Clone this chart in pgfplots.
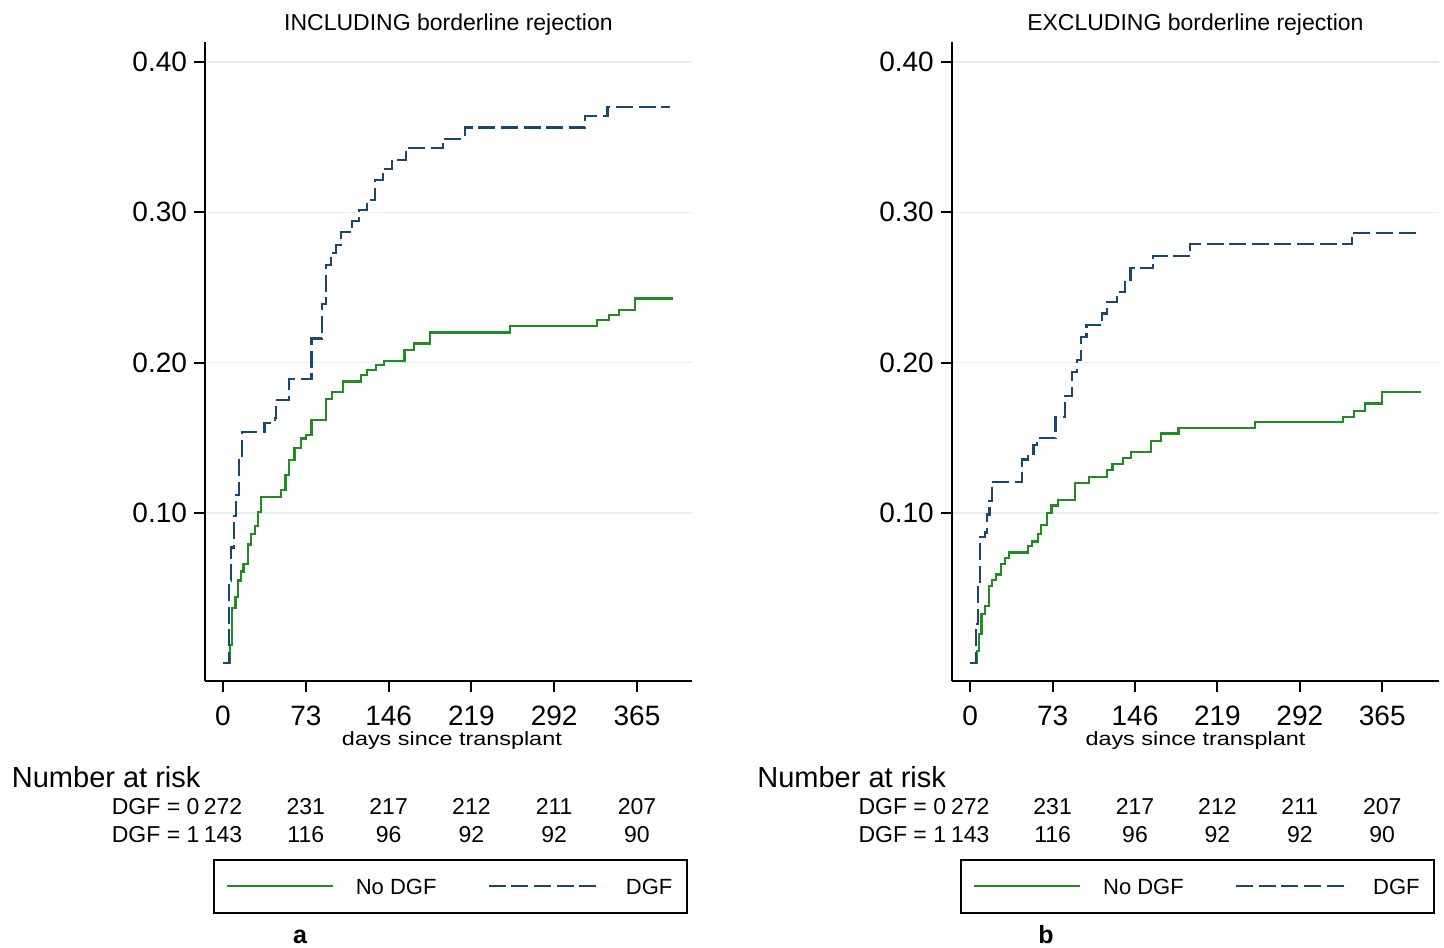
\documentclass[border=0pt]{standalone}
\usepackage{pgfplots}
\pgfplotsset{compat=1.18}
\usepackage{fontspec}
\setmainfont{Liberation Sans}
\definecolor{kmgreen}{RGB}{34,139,34}
\definecolor{kmnavy}{RGB}{26,71,111}
\definecolor{kmgrid}{RGB}{228,238,243}
\newcommand\nar{\fontsize{11.5}{13}\selectfont}
\newcommand\narhead{\fontsize{14.5}{16}\selectfont}

\pgfplotsset{
  kmaxis/.style={
    scale only axis, width=243.5pt, height=319.5pt,
    axis lines=left, axis line style={-, line width=1pt, black},
    ymin=-0.0118, ymax=0.4133,
    xtick={0,73,146,219,292,365}, ytick={0.1,0.2,0.3,0.4},
    tick align=outside, major tick length=5.5pt,
    tick style={line width=1pt, black},
    ymajorgrids, grid style={kmgrid, line width=0.8pt},
    /pgf/number format/assume math mode=true,
    ticklabel style={font=\fontsize{14}{16}\selectfont},
    yticklabel style={/pgf/number format/.cd, fixed, fixed zerofill, precision=2},
    xticklabel style={yshift=-3.5pt},
    every axis title shift=0pt,
    title style={at={(0.5,1)}, anchor=base, yshift=5.5pt, font=\fontsize{11.5}{13}\selectfont},
    xlabel style={anchor=base, yshift=-32pt, inner sep=0pt, font=\fontsize{11.7}{13}\selectfont},
    clip=false,
    legend columns=2, legend cell align=left,
    legend style={anchor=north west, draw=black, line width=0.8pt, inner sep=0pt,
      nodes={inner sep=0pt, text depth=0pt}, font=\fontsize{11}{13}\selectfont},
  },
  nodgf/.style={kmgreen, line width=1.1pt, const plot,
    legend image code/.code={\path[draw=none,fill=none] (-6.5pt,-13.25pt) rectangle (64.5pt,13.25pt);
      \draw[kmgreen, line width=1.1pt, solid] (0pt,0pt) -- (53pt,0pt);}},
  dgf/.style={kmnavy, line width=1.1pt, const plot, dash pattern=on 8.5pt off 2.8pt,
    legend image code/.code={\path[draw=none,fill=none] (0pt,-13.25pt) rectangle (68.5pt,13.25pt);
      \draw[kmnavy, line width=1.1pt, dash pattern=on 8.5pt off 2.8pt] (0pt,0pt) -- (56.5pt,0pt);}},
}

\begin{document}
\begin{tikzpicture}
\path[use as bounding box] (0,0) rectangle (722pt,473.5pt);

% ---------------- Panel a ----------------
\begin{axis}[kmaxis, at={(102.5pt,133pt)}, anchor=south west,
  xmin=-15.9, xmax=413.5,
  title={INCLUDING borderline rejection},
  xlabel={\scalebox{1}[0.82]{days since transplant}},
  xlabel style={at={(axis description cs:0.507,0)}},
  legend style={at={(0.0164,-0.2786)}}]
\addplot[nodgf] coordinates {
(0,0) (6,0.012) (8,0.037) (11,0.044) (13.4,0.055) (16,0.061) (18,0.066)
(22,0.079) (25,0.086) (28,0.0915) (30.5,0.1005) (33.5,0.1105)
(51,0.115) (55,0.125) (58,0.135) (63,0.143) (69,0.1495) (73,0.152) (78,0.162)
(90.5,0.176) (96,0.1806) (105.5,0.1875) (122,0.1918) (127,0.195) (135,0.1984)
(142,0.2013) (160,0.2082) (168.5,0.2127) (182.7,0.22) (253,0.2242)
(330,0.2282) (340,0.2316) (349,0.235) (363,0.2427) (397,0.2427)
};
\addlegendentry{\makebox[66pt][l]{No DGF}}
\addplot[dgf] coordinates {
(0,0) (5,0.055) (7.3,0.077) (10,0.098) (11.4,0.112) (14.2,0.137) (17,0.154)
(36.5,0.160) (45.5,0.163) (47,0.175) (58,0.189) (78,0.216) (87,0.239)
(91,0.265) (95,0.273) (99.5,0.278) (104,0.287) (114,0.294) (120,0.3015)
(127,0.308) (134,0.3215) (141,0.329) (149,0.335) (161.5,0.343) (194,0.349)
(213,0.3564) (319,0.3638) (339,0.370) (393.8,0.370)
};
\addlegendentry{\makebox[30.5pt][l]{DGF}}
\node[anchor=base west, inner sep=0, font=\narhead] at (axis cs:-186.5,-0.0829) {Number at risk};
\node[anchor=base east, inner sep=0, font=\nar] at (axis cs:-20.5,-0.1009) {DGF = 0};
\node[anchor=base east, inner sep=0, font=\nar] at (axis cs:-20.5,-0.1195) {DGF = 1};
\node[anchor=base, inner sep=0, font=\nar] at (axis cs:0,-0.1009) {272};
\node[anchor=base, inner sep=0, font=\nar] at (axis cs:73,-0.1009) {231};
\node[anchor=base, inner sep=0, font=\nar] at (axis cs:146,-0.1009) {217};
\node[anchor=base, inner sep=0, font=\nar] at (axis cs:219,-0.1009) {212};
\node[anchor=base, inner sep=0, font=\nar] at (axis cs:292,-0.1009) {211};
\node[anchor=base, inner sep=0, font=\nar] at (axis cs:365,-0.1009) {207};
\node[anchor=base, inner sep=0, font=\nar] at (axis cs:0,-0.1195) {143};
\node[anchor=base, inner sep=0, font=\nar] at (axis cs:73,-0.1195) {116};
\node[anchor=base, inner sep=0, font=\nar] at (axis cs:146,-0.1195) {96};
\node[anchor=base, inner sep=0, font=\nar] at (axis cs:219,-0.1195) {92};
\node[anchor=base, inner sep=0, font=\nar] at (axis cs:292,-0.1195) {92};
\node[anchor=base, inner sep=0, font=\nar] at (axis cs:365,-0.1195) {90};
\node[anchor=base, inner sep=0, font=\bfseries\fontsize{12.5}{14}\selectfont] at (axis cs:67.9,-0.1867) {a};
\end{axis}

% ---------------- Panel b ----------------
\begin{axis}[kmaxis, at={(475.9pt,133pt)}, anchor=south west, width=243.6pt,
  xmin=-16.3, xmax=415.3,
  title={EXCLUDING borderline rejection},
  xlabel={\scalebox{1}[0.82]{days since transplant}},
  xlabel style={at={(axis description cs:0.50,0)}},
  legend style={at={(0.0175,-0.2786)}}]
\addplot[nodgf] coordinates {
(0,0) (6,0.008) (8,0.0195) (10,0.033) (13,0.038) (16.3,0.0515) (19,0.0552)
(23,0.059) (27,0.066) (31,0.070) (34.5,0.0737) (51,0.078) (55,0.081) (60,0.086)
(63,0.092) (68,0.1) (72,0.1049) (78,0.1087) (92.7,0.1198) (105,0.1238)
(121,0.1287) (126,0.1327) (135.5,0.1367) (142.5,0.1403) (160.5,0.1477)
(169,0.1528) (184.5,0.1563) (252,0.1603) (330,0.1639) (340,0.168)
(350,0.1728) (365,0.1802) (399,0.1802)
};
\addlegendentry{\makebox[66pt][l]{No DGF}}
\addplot[dgf] coordinates {
(0,0) (4.9,0.026) (7,0.052) (9,0.084) (13,0.087) (15,0.099) (17,0.108) (19,0.1207)
(46,0.1355) (51,0.1394) (56,0.145) (59,0.15) (75.5,0.164) (84,0.178) (90.5,0.194)
(94.5,0.2018) (98,0.217) (103,0.2249) (117,0.2327) (121,0.2404) (130,0.247)
(137,0.2549) (142,0.2627) (162,0.2709) (195,0.2787) (338,0.2864) (399,0.2864)
};
\addlegendentry{\makebox[30.5pt][l]{DGF}}
\node[anchor=base west, inner sep=0, font=\narhead] at (axis cs:-188.9,-0.0829) {Number at risk};
\node[anchor=base east, inner sep=0, font=\nar] at (axis cs:-21,-0.1009) {DGF = 0};
\node[anchor=base east, inner sep=0, font=\nar] at (axis cs:-21,-0.1195) {DGF = 1};
\node[anchor=base, inner sep=0, font=\nar] at (axis cs:0,-0.1009) {272};
\node[anchor=base, inner sep=0, font=\nar] at (axis cs:73,-0.1009) {231};
\node[anchor=base, inner sep=0, font=\nar] at (axis cs:146,-0.1009) {217};
\node[anchor=base, inner sep=0, font=\nar] at (axis cs:219,-0.1009) {212};
\node[anchor=base, inner sep=0, font=\nar] at (axis cs:292,-0.1009) {211};
\node[anchor=base, inner sep=0, font=\nar] at (axis cs:365,-0.1009) {207};
\node[anchor=base, inner sep=0, font=\nar] at (axis cs:0,-0.1195) {143};
\node[anchor=base, inner sep=0, font=\nar] at (axis cs:73,-0.1195) {116};
\node[anchor=base, inner sep=0, font=\nar] at (axis cs:146,-0.1195) {96};
\node[anchor=base, inner sep=0, font=\nar] at (axis cs:219,-0.1195) {92};
\node[anchor=base, inner sep=0, font=\nar] at (axis cs:292,-0.1195) {92};
\node[anchor=base, inner sep=0, font=\nar] at (axis cs:365,-0.1195) {90};
\node[anchor=base, inner sep=0, font=\bfseries\fontsize{12.5}{14}\selectfont] at (axis cs:67.2,-0.1867) {b};
\end{axis}
\end{tikzpicture}
\end{document}
